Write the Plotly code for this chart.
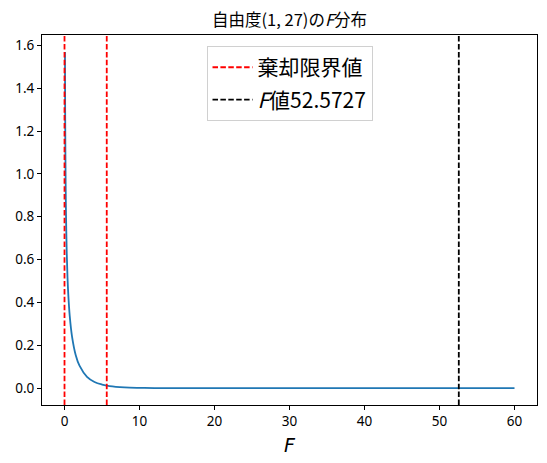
import plotly.graph_objects as go

# F distribution density (df 1, 27)
f_x = [0.062, 0.08, 0.1, 0.15, 0.2, 0.3, 0.4, 0.5, 0.7, 1.0, 1.5, 2.0, 3.0, 4.0, 5.0, 6.0, 8.0, 10.0, 12.0, 15.0, 20.0, 25.0, 30.0, 40.0, 50.0, 60.0]
f_y = [1.569, 1.366, 1.209, 0.962, 0.812, 0.630, 0.518, 0.440, 0.336, 0.242, 0.154, 0.105, 0.053, 0.029, 0.017, 0.010, 0.0038, 0.0016, 0.0007, 0.0002, 0.00003, 0.0, 0.0, 0.0, 0.0, 0.0]

critical_values = [0.001, 5.633]
f_value = 52.5727
y_lo, y_hi = -0.0785, 1.648

x_ticks = [0, 10, 20, 30, 40, 50, 60]
y_ticks = [0.0, 0.2, 0.4, 0.6, 0.8, 1.0, 1.2, 1.4, 1.6]

fig = go.Figure()
fig.add_trace(go.Scatter(x=f_x, y=f_y, mode="lines", line=dict(color="#1f77b4", width=1.8),
                         showlegend=False, line_shape="spline"))
rx, ry = [], []
for v in critical_values:
    rx += [v, v, None]
    ry += [y_lo, y_hi, None]
fig.add_trace(go.Scatter(x=rx, y=ry, mode="lines", name="棄却限界値", legendgroup="a",
                         line=dict(color="red", width=1.8, dash="5.5px,2.4px")))
fig.add_trace(go.Scatter(x=[f_value, f_value], y=[y_lo, y_hi], mode="lines", legendgroup="b",
                         name="<i>F</i>値" + f"{f_value}",
                         line=dict(color="black", width=1.8, dash="5.5px,2.4px")))

axis_common = dict(showgrid=False, zeroline=False, showline=True, linecolor="black", linewidth=1,
                   mirror=True, ticks="outside", ticklen=4, tickcolor="black", automargin=False,
                   tickfont=dict(family="Noto Sans", size=13.5, color="black"))
fig.update_layout(
    width=539, height=455,
    margin=dict(l=34, r=10, t=27, b=58),
    paper_bgcolor="white", plot_bgcolor="white",
    font=dict(family="Noto Sans CJK JP, DejaVu Sans", color="black"),
    title=dict(text="自由度(1, 27)の<i>F</i>分布", xref="paper", x=0.5, xanchor="center", y=0.9725, yanchor="middle",
               font=dict(size=16.5, color="black")),
    xaxis=dict(range=[-3, 63], tickvals=x_ticks, ticktext=[str(t) for t in x_ticks],
               title=dict(text="<i>F</i>", font=dict(size=19, family="DejaVu Sans"), standoff=9), **axis_common),
    yaxis=dict(range=[y_lo, y_hi], tickvals=y_ticks, ticktext=[f"{t:.1f}" for t in y_ticks], **axis_common),
    legend=dict(x=0.5, xanchor="center", y=0.97, yanchor="top", bgcolor="rgba(255,255,255,0.8)",
                bordercolor="#d0d0d0", borderwidth=1, font=dict(size=21, family="Noto Sans CJK JP"),
                itemwidth=40, tracegroupgap=2, traceorder="grouped"),
)
fig.write_html("out.html")
